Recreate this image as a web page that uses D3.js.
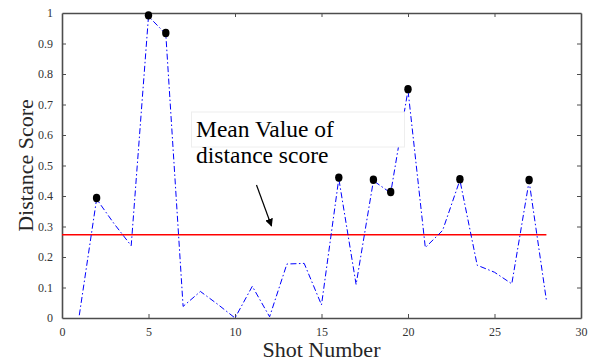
<!DOCTYPE html>
<html>
<head>
<meta charset="utf-8">
<script src="https://cdn.jsdelivr.net/npm/d3@7"></script>
<style>
  body { margin: 0; background: #fff; }
  svg text { font-family: "Liberation Serif", "Times New Roman", serif; }
</style>
</head>
<body>
<div id="chart"></div>
<script>
// shot numbers and distance scores
const shots = [1, 2, 3, 4, 5, 6, 7, 8, 9, 10, 11, 12, 13, 14, 15, 16, 17, 18, 19, 20, 21, 22, 23, 24, 25, 26, 27, 28]
const scores = [0.009, 0.39, 0.31, 0.237, 0.989, 0.931, 0.038, 0.087, 0.045, 0.0, 0.104, 0.004, 0.177, 0.179, 0.043,
  0.457, 0.11, 0.45, 0.41, 0.747, 0.231, 0.287, 0.452, 0.173, 0.15, 0.112, 0.449, 0.058]
// shots that got a black marker
const marked = [2, 5, 6, 16, 18, 19, 20, 23, 27]
const meanValue = 0.273
const xTicks = [0, 5, 10, 15, 20, 25, 30]
const yTicks = [0, 0.1, 0.2, 0.3, 0.4, 0.5, 0.6, 0.7, 0.8, 0.9, 1]

const width = 594, height = 361
const margin = {left: 62, right: 13, top: 13, bottom: 43}

const svg = d3.select("#chart").append("svg")
  .attr("width", width)
  .attr("height", height)

const x = d3.scaleLinear().domain([0, 30]).range([margin.left, width - margin.right])
const y = d3.scaleLinear().domain([0, 1]).range([height - margin.bottom, margin.top])

const axisColor = "#4d4d4d"

// axes on all four sides, ticks pointing in
const axBottom = svg.append("g").attr("transform", `translate(0,${y(0)})`)
  .call(d3.axisBottom(x).tickValues(xTicks).tickSizeInner(-4).tickSizeOuter(0).tickPadding(9))
const axTop = svg.append("g").attr("transform", `translate(0,${y(1)})`)
  .call(d3.axisTop(x).tickValues(xTicks).tickSizeInner(-4).tickSizeOuter(0).tickFormat(""))
const axLeft = svg.append("g").attr("transform", `translate(${x(0)},0)`)
  .call(d3.axisLeft(y).tickValues(yTicks).tickSizeInner(-4).tickSizeOuter(0).tickPadding(9).tickFormat(d3.format("")))
const axRight = svg.append("g").attr("transform", `translate(${x(30)},0)`)
  .call(d3.axisRight(y).tickValues(yTicks).tickSizeInner(-4).tickSizeOuter(0).tickFormat(""))

;[axBottom, axTop, axLeft, axRight].forEach(g => {
  g.select(".domain").attr("stroke", axisColor).attr("stroke-width", 1.6)
  g.selectAll(".tick line").attr("stroke", axisColor).attr("stroke-width", 1)
  g.selectAll(".tick text")
    .attr("fill", "#333")
    .style("font-family", '"Liberation Serif", serif')
    .style("font-size", "12px")
})
// no tick marks on the box corners
axBottom.selectAll(".tick line").filter(d => d === 0 || d === 30).remove()
axTop.selectAll(".tick line").filter(d => d === 0 || d === 30).remove()
axLeft.selectAll(".tick line").filter(d => d === 0 || d === 1).remove()
axRight.selectAll(".tick line").filter(d => d === 0 || d === 1).remove()

// mean line
svg.append("line")
  .attr("x1", x(0)).attr("x2", x(28))
  .attr("y1", y(meanValue)).attr("y2", y(meanValue))
  .attr("stroke", "#ff0000")
  .attr("stroke-width", 1.3)

// distance score line, dash-dot
const data = shots.map((s, i) => ({shot: s, score: scores[i]}))
const line = d3.line().x(d => x(d.shot)).y(d => y(d.score))
svg.append("path")
  .datum(data)
  .attr("d", line)
  .attr("fill", "none")
  .attr("stroke", "#0000ff")
  .attr("stroke-width", 1)
  .attr("stroke-dasharray", "6,2.5,1.5,2.5")

svg.append("g").selectAll("ellipse")
  .data(data.filter(d => marked.includes(d.shot)))
  .enter().append("ellipse")
  .attr("cx", d => x(d.shot))
  .attr("cy", d => y(d.score) - 1)
  .attr("rx", 3.7)
  .attr("ry", 4.2)
  .attr("fill", "#000")

// annotation box and text
svg.append("rect")
  .attr("x", 191.5).attr("y", 112)
  .attr("width", 213).attr("height", 35)
  .attr("fill", "#fff")
  .attr("stroke", "#eeeeee")
  .attr("stroke-width", 1)

svg.append("text")
  .attr("x", 196).attr("y", 137)
  .style("font-size", "23.5px")
  .attr("fill", "#000")
  .text("Mean Value of")
svg.append("text")
  .attr("x", 196).attr("y", 163)
  .style("font-size", "23.5px")
  .attr("fill", "#000")
  .text("distance score")

// arrow
svg.append("defs").append("marker")
  .attr("id", "head")
  .attr("viewBox", "0 0 10 10")
  .attr("refX", 9).attr("refY", 5)
  .attr("markerWidth", 8).attr("markerHeight", 8)
  .attr("markerUnits", "userSpaceOnUse")
  .attr("orient", "auto")
  .append("path")
  .attr("d", "M0,0 L10,5 L0,10 Z")
  .attr("fill", "#000")

svg.append("line")
  .attr("x1", 256.5).attr("y1", 185)
  .attr("x2", 271.5).attr("y2", 226)
  .attr("stroke", "#000")
  .attr("stroke-width", 1.2)
  .attr("marker-end", "url(#head)")

// axis titles
svg.append("text")
  .attr("x", (x(0) + x(30)) / 2)
  .attr("y", 357)
  .attr("text-anchor", "middle")
  .style("font-size", "22px")
  .attr("fill", "#262626")
  .text("Shot Number")

svg.append("text")
  .attr("transform", `translate(33,${(y(0) + y(1)) / 2}) rotate(-90)`)
  .attr("text-anchor", "middle")
  .style("font-size", "22px")
  .attr("fill", "#262626")
  .text("Distance Score")
</script>
</body>
</html>
